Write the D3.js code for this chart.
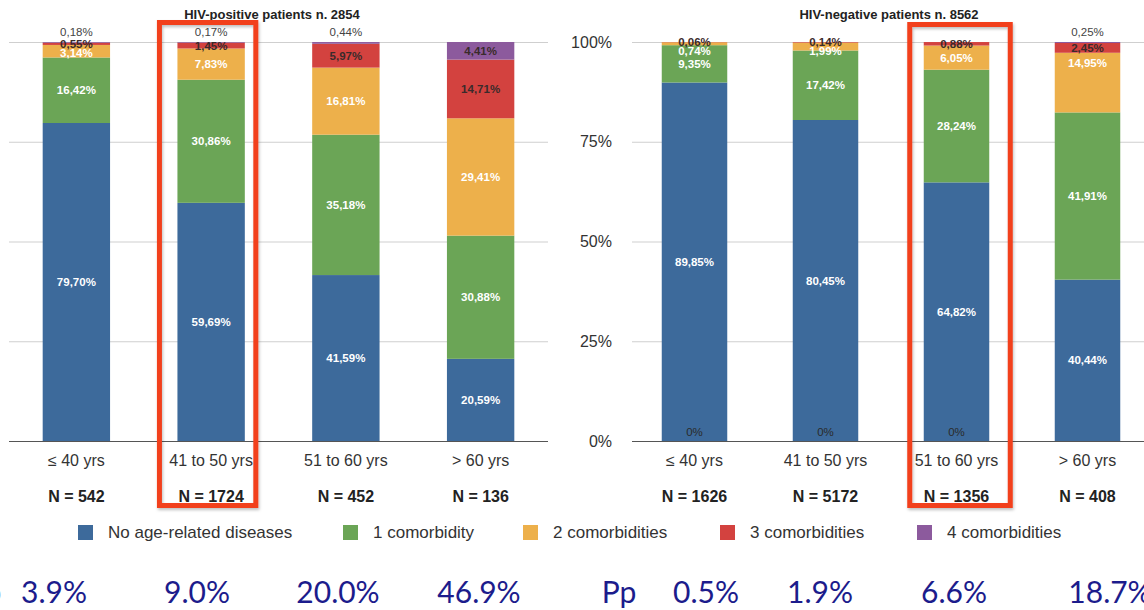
<!DOCTYPE html>
<html>
<head>
<meta charset="utf-8">
<script src="https://cdn.jsdelivr.net/npm/d3@7"></script>
<style>
  body { margin: 0; background: #fff; }
  svg { display: block; font-family: "Liberation Sans", Arial, Helvetica, sans-serif; }
</style>
</head>
<body>
<svg id="chart" width="1144" height="610"></svg>
<script>
// Age groups and comorbidity classes
const ageGroups = ["≤ 40 yrs", "41 to 50 yrs", "51 to 60 yrs", "> 60 yrs"];
const seriesNames = ["No age-related diseases", "1 comorbidity", "2 comorbidities", "3 comorbidities", "4 comorbidities"];
const seriesColors = ["#3d6a9b", "#6ba556", "#edb04b", "#d3423f", "#8c5a9d"];

// HIV-positive patients (% of each age group)
const posN = [542, 1724, 452, 136];
const posNone = [79.70, 59.69, 41.59, 20.59];
const pos1 = [16.42, 30.86, 35.18, 30.88];
const pos2 = [3.14, 7.83, 16.81, 29.41];
const pos3 = [0.55, 1.45, 5.97, 14.71];
const pos4 = [0.18, 0.17, 0.44, 4.41];
const posPp = ["3.9%", "9.0%", "20.0%", "46.9%"];

// HIV-negative patients (% of each age group)
const negN = [1626, 5172, 1356, 408];
const negNone = [89.85, 80.45, 64.82, 40.44];
const neg1 = [9.35, 17.42, 28.24, 41.91];
const neg2 = [0.74, 1.99, 6.05, 14.95];
const neg3 = [0.06, 0.14, 0.88, 2.45];
const neg4 = [0, 0, 0, 0.25];
const negPp = ["0.5%", "1.9%", "6.6%", "18.7%"];

const yTicks = [0, 25, 50, 75, 100];

const svg = d3.select("#chart");

const defs = svg.append("defs");
const shadow = defs.append("filter").attr("id", "boxShadow")
  .attr("x", "-10%").attr("y", "-10%").attr("width", "130%").attr("height", "130%");
shadow.append("feDropShadow").attr("dx", 1).attr("dy", 2).attr("stdDeviation", 1.5)
  .attr("flood-color", "#000").attr("flood-opacity", 0.25);

const y = d3.scaleLinear().domain([0, 100]).range([441, 42]);

const panels = [
  {
    title: "HIV-positive patients n. 2854", titleX: 272,
    n: posN, values: [posNone, pos1, pos2, pos3, pos4], pp: posPp,
    range: [9, 548], grid: [9, 548], axisLabels: false,
    highlight: "41 to 50 yrs", box: { left: 18, right: 11, top: 22.5, bottom: 505.5 },
    ppLabelX: -16, ppX: [54, 197, 338, 479], nudge: {}
  },
  {
    title: "HIV-negative patients n. 8562", titleX: 889,
    n: negN, values: [negNone, neg1, neg2, neg3, neg4], pp: negPp,
    range: [629, 1153], grid: [632, 1144], axisLabels: true,
    highlight: "51 to 60 yrs", box: { left: 14, right: 21, top: 24.5, bottom: 505.5 },
    ppLabelX: 619, ppX: [706, 820, 954, 1110], nudge: { "> 60 yrs|2": -20 }
  }
];

const fmt = v => v === 0 ? "0%" : v.toFixed(2).replace(".", ",") + "%";

panels.forEach(p => {
  const g = svg.append("g");

  const x = d3.scaleBand().domain(ageGroups).range(p.range)
    .paddingInner(0.5).paddingOuter(0.25);

  // gridlines and percentage axis
  const axis = d3.axisLeft(y).tickValues(yTicks)
    .tickSize(-(p.grid[1] - p.grid[0])).tickPadding(20)
    .tickFormat(d => p.axisLabels ? d + "%" : "");
  const ax = g.append("g").attr("transform", `translate(${p.grid[0]},0)`).call(axis);
  ax.select(".domain").remove();
  ax.selectAll(".tick line").attr("stroke", d => d === 0 ? "#555" : "#cfcfcf").attr("stroke-width", 1);
  ax.selectAll(".tick text").attr("fill", "#333").style("font-size", "16px")
    .style("font-family", "'Liberation Sans', Arial, sans-serif");

  // stacked bars
  const rows = ageGroups.map((a, i) => {
    const r = { group: a };
    p.values.forEach((s, k) => r[k] = s[i]);
    return r;
  });
  const keys = d3.range(seriesNames.length);
  const stacked = d3.stack().keys(keys)(rows);

  stacked.forEach((layer, k) => {
    g.append("g").selectAll("rect").data(layer).join("rect")
      .attr("x", d => x(d.data.group))
      .attr("width", x.bandwidth())
      .attr("y", d => y(d[1]))
      .attr("height", d => y(d[0]) - y(d[1]))
      .attr("fill", seriesColors[k]);
  });

  // value labels
  const labels = g.append("g").style("font-size", "11.5px").attr("text-anchor", "middle");
  ageGroups.forEach((a, i) => {
    const cx = x(a) + x.bandwidth() / 2;
    let prev = -Infinity;
    for (let k = keys.length - 1; k >= 0; k--) {
      const seg = stacked[k][i];
      const v = p.values[k][i];
      const center = (y(seg[0]) + y(seg[1])) / 2;
      let ly, fill = k >= 3 ? "#3a2b2b" : "#fff", weight = "bold";
      if (k === keys.length - 1 && v === 0) {
        ly = y(0) - 9; fill = "#2a2a2a"; weight = "normal";
      } else if (k === keys.length - 1 && v < 1) {
        ly = y(100) - 10; fill = "#444"; weight = "normal";
      } else {
        ly = Math.max(center, prev + 9);
        prev = ly;
      }
      const nudge = p.nudge[a + "|" + k] || 0;
      labels.append("text")
        .attr("x", cx).attr("y", ly + nudge).attr("dy", "0.35em")
        .attr("fill", fill).style("font-weight", weight)
        .text(fmt(v));
    }
  });

  // title
  g.append("text").attr("x", p.titleX).attr("y", 19).attr("text-anchor", "middle")
    .style("font-size", "13px").style("font-weight", "bold").attr("fill", "#222")
    .text(p.title);

  // category and sample-size labels
  g.append("g").selectAll("text").data(ageGroups).join("text")
    .attr("x", d => x(d) + x.bandwidth() / 2).attr("y", 466)
    .attr("text-anchor", "middle").style("font-size", "16px").attr("fill", "#333")
    .text(d => d);
  g.append("g").selectAll("text").data(p.n).join("text")
    .attr("x", (d, i) => x(ageGroups[i]) + x.bandwidth() / 2).attr("y", 502)
    .attr("text-anchor", "middle").style("font-size", "16px").style("font-weight", "bold")
    .attr("fill", "#222")
    .text(d => "N = " + d);

  // highlight frame
  const hx = x(p.highlight);
  g.append("rect")
    .attr("x", hx - p.box.left).attr("y", p.box.top)
    .attr("width", x.bandwidth() + p.box.left + p.box.right)
    .attr("height", p.box.bottom - p.box.top)
    .attr("fill", "none").attr("stroke", "#f23f1d").attr("stroke-width", 5)
    .attr("filter", "url(#boxShadow)");

  // prevalence row
  const ppg = g.append("g").style("font-family", "Lato, 'DejaVu Sans', sans-serif")
    .style("font-size", "30px").attr("fill", "#1c1c8c").attr("text-anchor", "middle");
  ppg.append("text").attr("x", p.ppLabelX).attr("y", 603).text("Pp");
  ppg.selectAll("text.val").data(p.pp).join("text").attr("class", "val")
    .attr("x", (d, i) => p.ppX[i]).attr("y", 603).text(d => d);
});

// legend
const legendX = [78, 343, 523, 720, 917];
const legend = svg.append("g");
seriesNames.forEach((name, k) => {
  const lg = legend.append("g").attr("transform", `translate(${legendX[k]},525)`);
  lg.append("rect").attr("width", 15).attr("height", 15).attr("fill", seriesColors[k]);
  lg.append("text").attr("x", 30).attr("y", 13).style("font-size", "17px")
    .attr("fill", "#333").text(name);
});
</script>
</body>
</html>
